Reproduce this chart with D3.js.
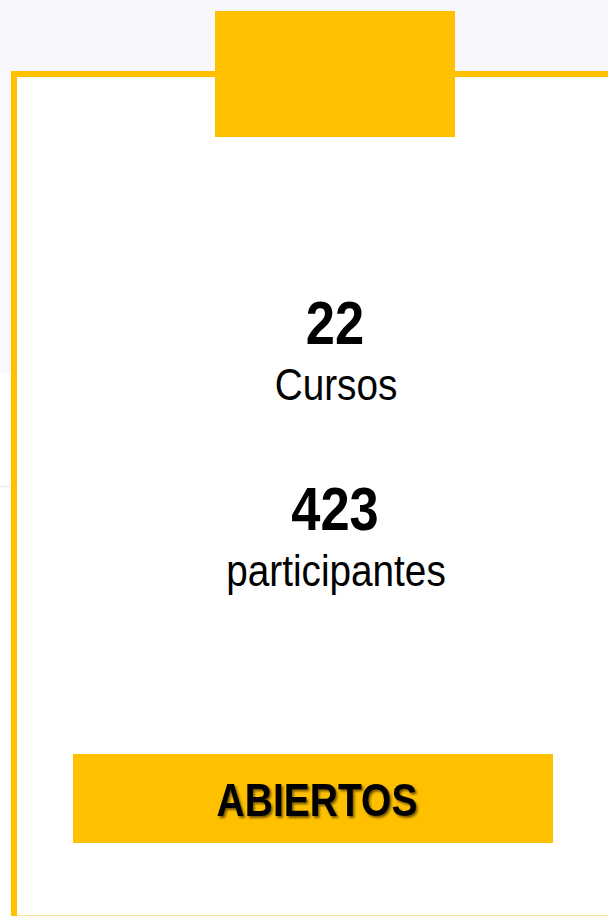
<!DOCTYPE html>
<html>
<head>
 <meta charset="UTF-8">
 <title>Cursos abiertos</title>
 <script src="https://d3js.org/d3.v7.min.js"></script>
 <style>
  body { margin: 0; background: #fff; }
  svg { display: block; }
 </style>
</head>
<body>
<script type="text/javascript">
var values = [22, 423];
var labels = ["Cursos", "participantes"];
var stateLabels = ["ABIERTOS"];

var width = 608;
var height = 916;
var yellow = "#ffc000";

var svg = d3.select("body").append("svg")
    .attr("width", width)
    .attr("height", height);

// drop shadow for the button text
var defs = svg.append("defs");
var f = defs.append("filter").attr("id", "shadow")
    .attr("x", "-10%").attr("y", "-20%").attr("width", "130%").attr("height", "150%");
f.append("feDropShadow")
    .attr("dx", 2).attr("dy", 2).attr("stdDeviation", 1.3)
    .attr("flood-color", "#000").attr("flood-opacity", 0.55);

// faint page background outside the card
svg.append("rect").attr("x", 0).attr("y", 0).attr("width", width).attr("height", 72)
    .attr("fill", "#f8f8fc");
svg.append("rect").attr("x", 0).attr("y", 72).attr("width", 12).attr("height", 301)
    .attr("fill", "#f8f9fd");
svg.append("line").attr("x1", 0).attr("x2", 11).attr("y1", 486.5).attr("y2", 486.5)
    .attr("stroke", "#ececec").attr("stroke-width", 1.5);

// card border (top and left)
svg.append("path")
    .attr("d", "M14,916 V74 H608")
    .attr("fill", "none")
    .attr("stroke", yellow)
    .attr("stroke-width", 6);
svg.append("line").attr("x1", 17).attr("x2", width).attr("y1", 915.5).attr("y2", 915.5)
    .attr("stroke", "#fce5a4").attr("stroke-width", 1);

// yellow tab on top
svg.append("rect")
    .attr("x", 215).attr("y", 11).attr("width", 240).attr("height", 126)
    .attr("fill", yellow);

// stats
var y = d3.scaleBand().domain(d3.range(values.length)).range([286, 658]);
var cx = 335;

var g = svg.selectAll("g.stat")
    .data(values)
    .enter()
    .append("g")
    .attr("class", "stat")
    .attr("transform", function (d, i) {
      return "translate(" + cx + "," + y(i) + ")";
    });

g.append("text")
    .attr("transform", "translate(0,58) scale(0.86,1)")
    .attr("text-anchor", "middle")
    .attr("font-family", "Liberation Sans, Arial, sans-serif")
    .attr("font-weight", "bold")
    .attr("font-size", 61)
    .attr("fill", "#000")
    .text(function (d) { return d; });

g.append("text")
    .attr("transform", "translate(1,114) scale(0.88,1)")
    .attr("text-anchor", "middle")
    .attr("font-family", "Liberation Sans, Arial, sans-serif")
    .attr("font-size", 44)
    .attr("fill", "#000")
    .text(function (d, i) { return labels[i]; });

// state button
var b = svg.selectAll("g.btn")
    .data(stateLabels)
    .enter()
    .append("g")
    .attr("class", "btn");

b.append("rect")
    .attr("x", 73).attr("y", 754).attr("width", 480).attr("height", 89)
    .attr("fill", yellow);

b.append("text")
    .attr("transform", "translate(317,816) scale(0.83,1)")
    .attr("text-anchor", "middle")
    .attr("font-family", "Liberation Sans, Arial, sans-serif")
    .attr("font-weight", "bold")
    .attr("font-size", 47)
    .attr("fill", "#000")
    .attr("filter", "url(#shadow)")
    .text(function (d) { return d; });
</script>
</body>
</html>
